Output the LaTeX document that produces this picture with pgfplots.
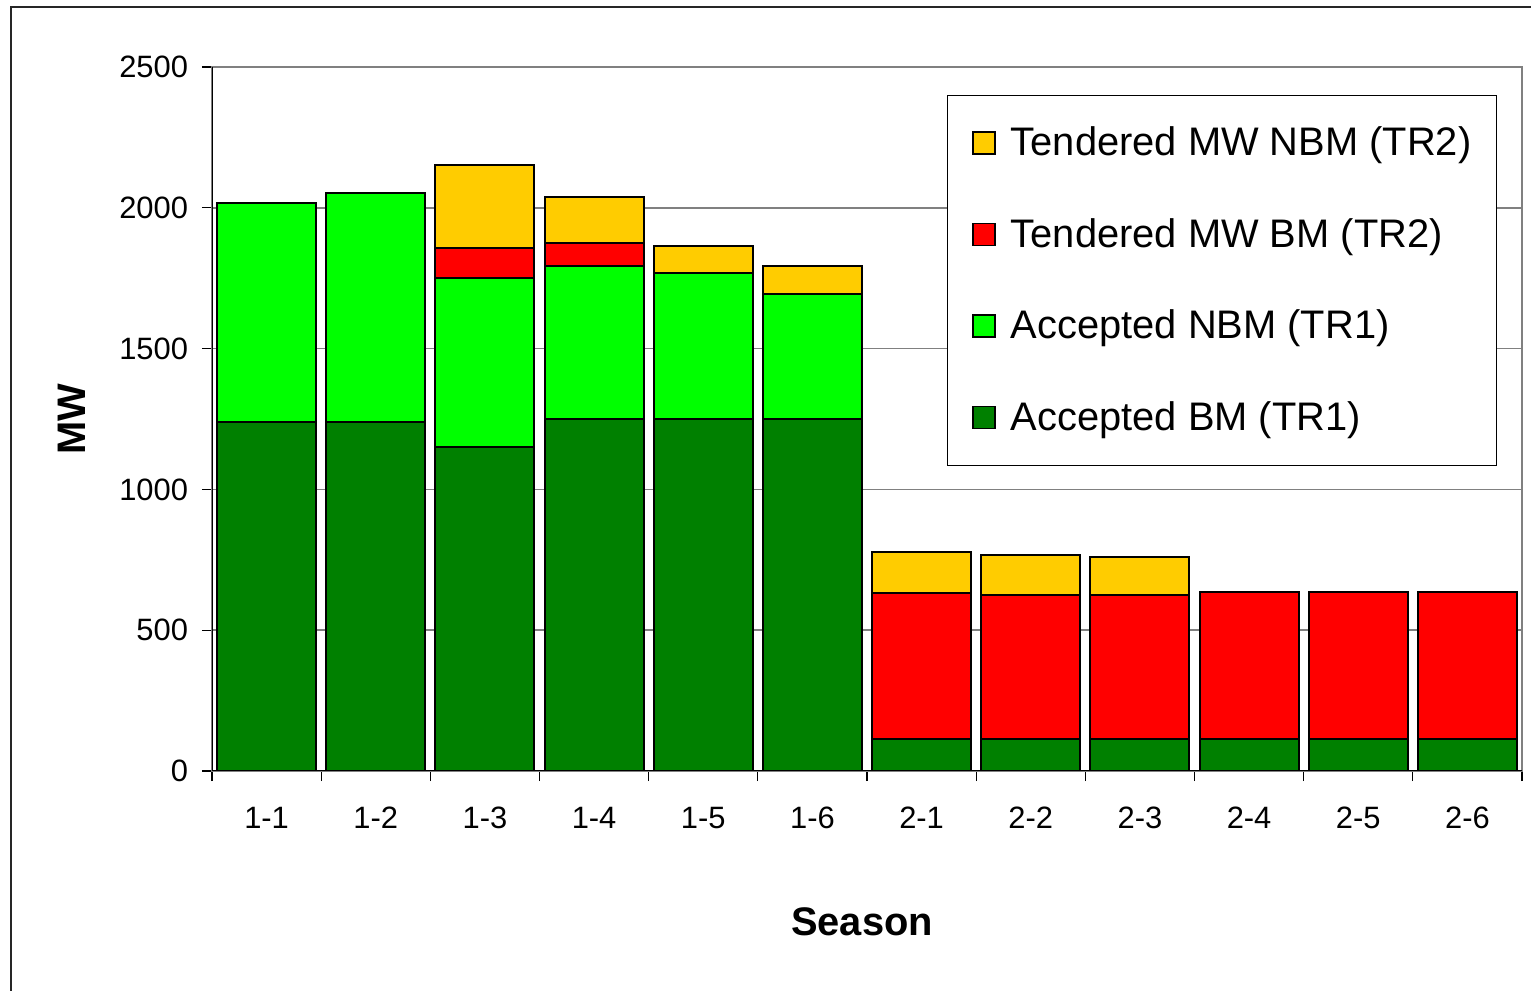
\documentclass[border=0pt]{standalone}
\usepackage{fontspec}
\setmainfont{Liberation Sans}
\usepackage{pgfplots}
\pgfplotsset{compat=1.18}
\definecolor{dkgreen}{RGB}{0,128,0}
\definecolor{ltgreen}{RGB}{0,255,0}
\definecolor{myred}{RGB}{255,0,0}
\definecolor{myyellow}{RGB}{255,204,0}
\definecolor{gridgray}{RGB}{128,128,128}
\pgfplotsset{sqlegend/.style={legend image code/.code={\draw[##1, draw=black, line width=0.7bp] (0bp,-5.5bp) rectangle (11bp,5.5bp);}}}
\begin{document}
\begin{tikzpicture}
\useasboundingbox (0,0) rectangle (765.5bp,495.5bp);
\draw[line width=1bp, black!85] (5.5bp,-5bp) -- (5.5bp,492bp) -- (775bp,492bp);
\begin{axis}[
  at={(106bp,110bp)}, anchor=south west,
  scale only axis, width=655bp, height=352bp,
  ybar stacked, bar width=49.5bp,
  xmin=-0.5, xmax=11.5, ymin=0, ymax=2500,
  ytick={0,500,...,2500},
  xtick={0,...,11},
  xticklabels={1-1,1-2,1-3,1-4,1-5,1-6,2-1,2-2,2-3,2-4,2-5,2-6},
  minor xtick={-0.5,0.5,...,11.5},
  major x tick style={draw=none},
  minor x tick style={black, line width=0.6bp},
  ytick style={black, line width=0.6bp},
  tick align=outside,
  major tick length=5bp, minor tick length=5bp,
  xtick pos=bottom, ytick pos=left,
  ymajorgrids, grid style={gridgray, line width=0.8bp},
  axis line style={gridgray, line width=0.9bp},
  /pgf/number format/assume math mode=true,
  /pgf/number format/1000 sep={},
  tick label style={font=\fontsize{15.5}{18}\selectfont, black},
  yticklabel style={xshift=-3.5bp},
  xticklabel style={yshift=-9.5bp},
  xlabel={\textbf{Season}}, ylabel={\textbf{MW}},
  label style={font=\fontsize{20}{24}\selectfont},
  xlabel style={at={(axis description cs:0.5,0)}, anchor=center, yshift=-75.5bp, xshift=-2.5bp},
  ylabel style={at={(axis description cs:-0.1069,0.5)}, anchor=center},
  reverse legend,
  legend style={at={(1,1)}, anchor=north east, xshift=-12.5bp, yshift=-14bp,
    draw=black, line width=0.6bp, fill=white,
    font=\fontsize{20}{22}\selectfont,
    inner xsep=12.5bp, inner ysep=14.5bp, row sep=27.25bp,
    nodes={inner sep=0pt, text height=15.5bp, text depth=3bp},
    /tikz/every odd column/.append style={column sep=7.5bp},
    cells={anchor=west}},
]
\addplot[fill=dkgreen, draw=black, line width=1bp, sqlegend] coordinates {
 (0,1240) (1,1240) (2,1152) (3,1250) (4,1250) (5,1250)
 (6,114) (7,114) (8,114) (9,114) (10,114) (11,114)};
\addlegendentry{Accepted BM (TR1)}
\addplot[fill=ltgreen, draw=black, line width=1bp, sqlegend] coordinates {
 (0,778) (1,814) (2,598) (3,544) (4,518) (5,444)
 (6,0) (7,0) (8,0) (9,0) (10,0) (11,0)};
\addlegendentry{Accepted NBM (TR1)}
\addplot[fill=myred, draw=black, line width=1bp, sqlegend] coordinates {
 (0,0) (1,0) (2,107) (3,81) (4,0) (5,0)
 (6,519) (7,510) (8,510) (9,520) (10,520) (11,520)};
\addlegendentry{Tendered MW BM (TR2)}
\addplot[fill=myyellow, draw=black, line width=1bp, sqlegend] coordinates {
 (0,0) (1,0) (2,296) (3,162) (4,98) (5,100)
 (6,143) (7,144) (8,135) (9,0) (10,0) (11,0)};
\addlegendentry{Tendered MW NBM (TR2)}
\draw[black, line width=0.9bp] (rel axis cs:0,1) -- (rel axis cs:0,0) -- (rel axis cs:1,0);
\end{axis}
\end{tikzpicture}
\end{document}
